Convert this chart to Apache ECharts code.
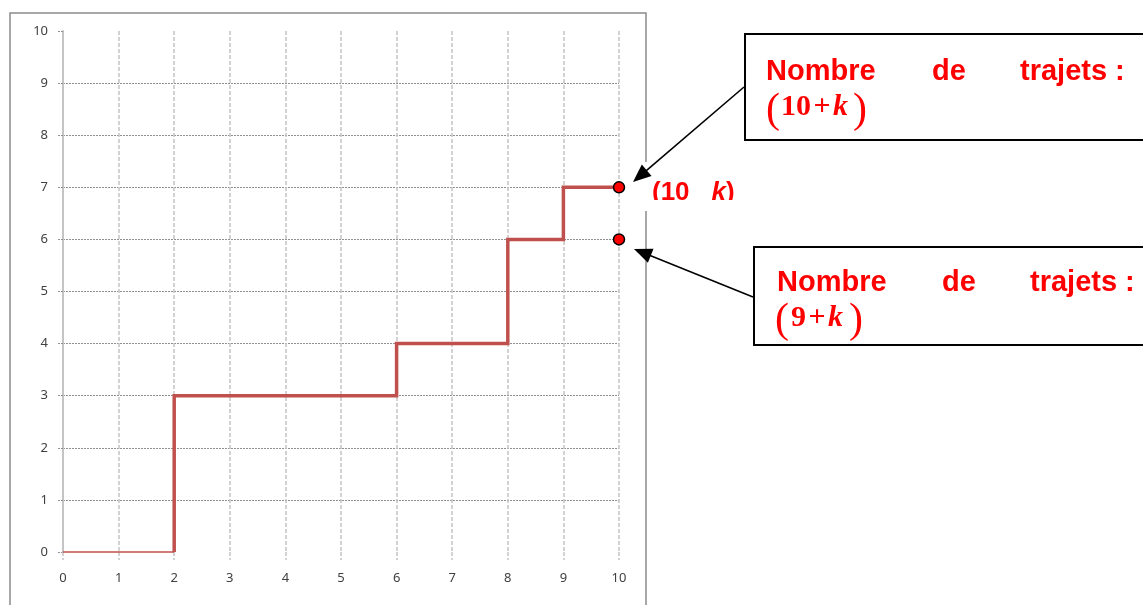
<!DOCTYPE html>
<html>
<head>
<meta charset="utf-8">
<script src="https://cdn.jsdelivr.net/npm/echarts@6/dist/echarts.min.js"></script>
<style>
html,body{margin:0;padding:0;background:#fff;}
#chart{width:1143px;height:605px;}
</style>
</head>
<body>
<div id="chart"></div>
<script>
// ---- data ----
const breakX = [0, 2, 6, 8, 9, 10];      // x where the level changes
const levels = [0, 3, 4, 6, 7];          // step values between breaks
const endPoints = [[10, 7], [10, 6]];    // highlighted points
const xTicks = [0,1,2,3,4,5,6,7,8,9,10];
const yTicks = [0,1,2,3,4,5,6,7,8,9,10];

const thinData = [[breakX[0], levels[0]], [breakX[1], levels[0]]];
const thickData = [[breakX[1], levels[0]]];
for (let i = 1; i < levels.length; i++) thickData.push([breakX[i + 1], levels[i]]);

const chart = echarts.init(document.getElementById('chart'), null, {renderer: 'canvas'});

function arrow(tail, tip, len, half) {
  const dx = tip[0] - tail[0], dy = tip[1] - tail[1];
  const L = Math.sqrt(dx * dx + dy * dy);
  const ux = dx / L, uy = dy / L;
  const bx = tip[0] - ux * len, by = tip[1] - uy * len;
  const px = -uy, py = ux;
  return [
    {type: 'line', z: 20, shape: {x1: tail[0], y1: tail[1], x2: bx + ux * 2, y2: by + uy * 2},
      style: {stroke: '#000', lineWidth: 1.6}},
    {type: 'polygon', z: 20, shape: {points: [tip, [bx + px * half, by + py * half], [bx - px * half, by - py * half]]},
      style: {fill: '#000'}}
  ];
}

const red = '#ff0000';
const sansB = 'bold 29px "Liberation Sans", Arial, sans-serif';
const serifB = 'bold 30px "Liberation Serif", "Times New Roman", serif';
const serifBI = 'italic bold 30px "Liberation Serif", "Times New Roman", serif';
const paren = '42px "Liberation Serif", "Times New Roman", serif';

function txt(x, y, text, font, align) {
  return {type: 'text', z: 15, style: {x: x, y: y, text: text, font: font, fill: red,
    textAlign: align || 'left', textVerticalAlign: 'middle'}};
}

const graphics = [
  // outer chart frame
  {type: 'rect', z: 0, shape: {x: 10, y: 13, width: 636, height: 700},
    style: {fill: 'none', stroke: '#8c8c8c', lineWidth: 1.5}},
  // white patch behind the clipped label
  {type: 'rect', z: 5, shape: {x: 641, y: 162, width: 100, height: 49}, style: {fill: '#fff'}},
  {type: 'text', z: 6, style: {x: 652, y: 180, text: '{a|(10}{g| }{b|k}{a|)}', textVerticalAlign: 'top',
    rich: {a: {font: 'bold 26px "Liberation Sans", Arial, sans-serif', fill: red},
           g: {font: 'bold 26px "Liberation Sans", Arial, sans-serif', width: 22},
           b: {font: 'italic bold 26px "Liberation Sans", Arial, sans-serif', fill: red}}}},
  {type: 'rect', z: 7, shape: {x: 641, y: 200, width: 100, height: 11}, style: {fill: '#fff'}},
  // box 1
  {type: 'rect', z: 10, shape: {x: 745, y: 34, width: 420, height: 106},
    style: {fill: '#fff', stroke: '#000', lineWidth: 2}},
  txt(766, 71.5, 'Nombre', sansB),
  txt(932, 71.5, 'de', sansB),
  txt(1020, 71.5, 'trajets :', sansB),
  txt(766, 111, '(', paren),
  {type: 'text', z: 15, style: {x: 781, y: 107, text: '{n|10}{s| }{n|+}{s| }{k|k}', textVerticalAlign: 'middle',
    rich: {n: {font: serifB, fill: red}, k: {font: serifBI, fill: red}, s: {font: '10px serif'}}}},
  txt(853, 111, ')', paren),
  // box 2
  {type: 'rect', z: 10, shape: {x: 754, y: 247, width: 420, height: 98},
    style: {fill: '#fff', stroke: '#000', lineWidth: 2}},
  txt(777, 283, 'Nombre', sansB),
  txt(942, 283, 'de', sansB),
  txt(1030, 283, 'trajets :', sansB),
  txt(775, 321, '(', paren),
  {type: 'text', z: 15, style: {x: 791, y: 318, text: '{n|9}{s| }{n|+}{s| }{k|k}', textVerticalAlign: 'middle',
    rich: {n: {font: serifB, fill: red}, k: {font: serifBI, fill: red}, s: {font: '10px serif'}}}},
  txt(849, 321, ')', paren)
].concat(arrow([744, 87], [633, 182], 18, 7.5))
 .concat(arrow([753, 297], [634, 249], 18, 7.5));

const option = {
  backgroundColor: '#fff',
  animation: false,
  grid: {left: 63, right: 524, top: 31, bottom: 53, containLabel: false},
  xAxis: {
    type: 'value', min: 0, max: 10, interval: 1,
    axisLine: {show: false},
    axisTick: {show: true, length: 8, lineStyle: {color: '#c4c4c4', width: 1.5, type: [4, 2]}},
    axisLabel: {margin: 20, color: '#404040', fontSize: 13, fontFamily: '"Noto Sans", sans-serif',
      formatter: v => xTicks.includes(v) ? String(v) : ''},
    splitLine: {show: true, showMinLine: false, lineStyle: {color: '#c4c4c4', width: 1.5, type: [4, 2]}}
  },
  yAxis: {
    type: 'value', min: 0, max: 10, interval: 1,
    axisLine: {show: true, lineStyle: {color: '#c4c4c4', width: 2}},
    axisTick: {show: true, length: 6, lineStyle: {color: '#909090', width: 1, type: [2, 1]}},
    axisLabel: {margin: 15, color: '#404040', fontSize: 13, fontFamily: '"Noto Sans", sans-serif',
      formatter: v => yTicks.includes(v) ? String(v) : ''},
    splitLine: {show: true, showMinLine: false, showMaxLine: false,
      lineStyle: {color: '#909090', width: 1, type: [2, 1]}}
  },
  series: [
    {type: 'line', data: thinData, showSymbol: false, clip: false, z: 3,
      lineStyle: {color: '#c0504d', width: 1.5}},
    {type: 'line', data: thickData, step: 'start', showSymbol: false, clip: false, z: 3,
      lineStyle: {color: '#c0504d', width: 3.5, join: 'miter'}},
    {type: 'scatter', data: endPoints, symbolSize: 11, clip: false, z: 4,
      itemStyle: {color: '#ff0000', borderColor: '#000', borderWidth: 1.5, opacity: 1}}
  ],
  graphic: graphics
};
chart.setOption(option);
</script>
</body>
</html>
